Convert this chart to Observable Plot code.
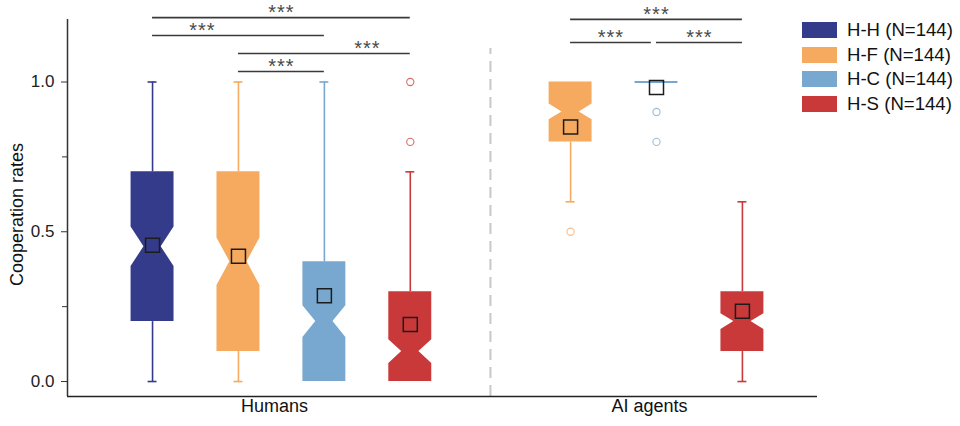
<!DOCTYPE html>
<html>
<head>
<meta charset="utf-8">
<script src="https://cdn.jsdelivr.net/npm/d3@7"></script>
<script src="https://cdn.jsdelivr.net/npm/@observablehq/plot@0.6"></script>
<style>
  body { margin: 0; background: #fff; font-family: "Liberation Sans", Arial, sans-serif; }
  #wrap { position: relative; width: 960px; height: 426px; }
  #legend { position: absolute; left: 802px; top: 22px; }
  .row { display: flex; align-items: center; height: 16px; margin-bottom: 8.6px; }
  .sw { width: 35px; height: 16px; margin-right: 10px; }
  .lab { font-size: 18.6px; color: #111; white-space: nowrap; line-height: 16px; }
</style>
</head>
<body>
<div id="wrap"><div id="legend"></div></div>
<script>
// ---------------- data ----------------
const groups = ["Humans", "AI agents"];
const series = ["H-H", "H-F", "H-C", "H-S"];
const seriesN = [144, 144, 144, 144];
const seriesColors = ["#343b8a", "#f6aa5f", "#78a8cf", "#c9393a"];

const boxGroup  = ["Humans", "Humans", "Humans", "Humans", "AI agents", "AI agents", "AI agents"];
const boxSeries = ["H-H", "H-F", "H-C", "H-S", "H-F", "H-C", "H-S"];
const boxMin    = [0.0, 0.0, 0.0, 0.0, 0.6, 1.0, 0.0];
const boxQ1     = [0.2, 0.1, 0.0, 0.0, 0.8, 1.0, 0.1];
const boxMedian = [0.45, 0.4, 0.2, 0.1, 0.9, 1.0, 0.2];
const boxQ3     = [0.7, 0.7, 0.4, 0.3, 1.0, 1.0, 0.3];
const boxMax    = [1.0, 1.0, 1.0, 0.7, 1.0, 1.0, 0.6];
const boxMean   = [0.455, 0.418, 0.286, 0.19, 0.85, 0.982, 0.235];

const outlierGroup  = ["Humans", "Humans", "AI agents", "AI agents", "AI agents"];
const outlierSeries = ["H-S", "H-S", "H-F", "H-C", "H-C"];
const outlierValue  = [0.8, 1.0, 0.5, 0.9, 0.8];

const compGroup = ["Humans", "Humans", "Humans", "Humans", "AI agents", "AI agents", "AI agents"];
const compA     = ["H-H", "H-H", "H-F", "H-F", "H-F", "H-F", "H-C"];
const compB     = ["H-S", "H-C", "H-S", "H-C", "H-S", "H-C", "H-S"];
const compLabel = ["***", "***", "***", "***", "***", "***", "***"];

const yTicks = [0, 0.5, 1.0];
const yMinorTicks = [0.25, 0.75];

// ---------------- layout ----------------
const groupOffset = {"Humans": 0, "AI agents": 3.866};
const boxWidth = 0.5, capHalf = 0.052, notchIndent = 0.3 * boxWidth;
const bracketRow = [3, 2, 1, 0, 1, 0, 0];
const rowBase = {"Humans": 1.035, "AI agents": 1.132};
const rowStep = {"Humans": 0.06, "AI agents": 0.077};
const labelFrac = [0.5, 0.29, 0.75, 0.5, 0.5, 0.5, 0.5];
const pos = (g, s) => groupOffset[g] + series.indexOf(s);
const nOf = s => seriesN[series.indexOf(s)];

const boxes = boxGroup.map((g, i) => ({
  g, s: boxSeries[i], x: pos(g, boxSeries[i]),
  min: boxMin[i], q1: boxQ1[i], med: boxMedian[i], q3: boxQ3[i], max: boxMax[i], mean: boxMean[i]
}));

// notched box outlines
const outline = [];
boxes.forEach((b, i) => {
  if (b.q3 <= b.q1) return;
  const half = 1.58 * (b.q3 - b.q1) / Math.sqrt(nOf(b.s));
  const lo = Math.max(b.q1, b.med - half), hi = Math.min(b.q3, b.med + half);
  const L = b.x - boxWidth / 2, R = b.x + boxWidth / 2;
  [[b.q1, L, R], [lo, L, R], [b.med, L + notchIndent, R - notchIndent], [hi, L, R], [b.q3, L, R]]
    .forEach(([y, x1, x2]) => outline.push({id: i, s: b.s, y, x1, x2}));
});
const degenerate = boxes.filter(b => b.q3 <= b.q1);

const whiskers = [];
boxes.forEach(b => {
  if (b.max > b.q3) whiskers.push({s: b.s, x: b.x, y1: b.q3, y2: b.max, cap: b.max});
  if (b.min < b.q1) whiskers.push({s: b.s, x: b.x, y1: b.min, y2: b.q1, cap: b.min});
});

const outliers = outlierValue.map((v, i) => ({s: outlierSeries[i], x: pos(outlierGroup[i], outlierSeries[i]), y: v}));

const comps = compGroup.map((g, i) => {
  const x1 = pos(g, compA[i]);
  let x2 = pos(g, compB[i]);
  const adjacent = compGroup.some((g2, j) => j !== i && g2 === g && bracketRow[j] === bracketRow[i] && pos(g2, compA[j]) === x2);
  if (adjacent) x2 -= 0.06;
  return {x1, x2, y: rowBase[g] + bracketRow[i] * rowStep[g], label: compLabel[i], lx: x1 + labelFrac[i] * (x2 - x1)};
});

const groupLabels = groups.map(g => ({g, x: d3.mean(boxes.filter(b => b.g === g), b => b.x)}));
const divider = [(d3.max(boxes.filter(b => b.g === "Humans"), b => b.x) + d3.min(boxes.filter(b => b.g === "AI agents"), b => b.x)) / 2];

const yLo = -0.05, yTop = 1.209;
const xLo = -0.99, xHi = 7.74;

// ---------------- plot ----------------
const chart = Plot.plot({
  width: 960, height: 426,
  marginLeft: 67, marginRight: 143, marginTop: 0, marginBottom: 30,
  style: {fontFamily: '"Liberation Sans", Arial, sans-serif', fontSize: "17px", color: "#222", background: "#fff"},
  x: {domain: [xLo, xHi], axis: null},
  y: {domain: [yLo, 1.2721], axis: null},
  color: {domain: series, range: seriesColors},
  marks: [
    Plot.ruleX(divider, {x: d => d, y1: yLo, y2: 1.112, stroke: "#c8c8c8", strokeWidth: 2, strokeDasharray: "11,7"}),
    Plot.ruleX(whiskers, {x: "x", y1: "y1", y2: "y2", stroke: "s", strokeWidth: 1.6}),
    Plot.ruleY(whiskers, {y: "cap", x1: d => d.x - capHalf, x2: d => d.x + capHalf, stroke: "s", strokeWidth: 1.6}),
    Plot.areaX(outline, {y: "y", x1: "x1", x2: "x2", z: "id", fill: "s", curve: "linear"}),
    Plot.ruleY(degenerate, {y: "med", x1: d => d.x - boxWidth / 2, x2: d => d.x + boxWidth / 2, stroke: "s", strokeWidth: 2}),
    Plot.dot(outliers, {x: "x", y: "y", r: 3.6, stroke: "s", strokeOpacity: 0.75, fill: "none", strokeWidth: 1.1}),
    Plot.dot(boxes, {x: "x", y: "mean", symbol: "square", r: 7.9, stroke: "#1c1c1c", fill: "none", strokeWidth: 1.5}),
    Plot.ruleY(comps, {y: "y", x1: "x1", x2: "x2", stroke: "#3a3a3a", strokeWidth: 1.6}),
    Plot.text(comps, {x: "lx", y: "y", text: "label", dy: -5, fontSize: 20, fill: "#4a4a4a"}),
    Plot.ruleX([xLo], {x: d => d, y1: yLo, y2: yTop, stroke: "#333", strokeWidth: 1.5}),
    Plot.ruleY([yLo], {y: d => d, x1: xLo, x2: xHi, stroke: "#222", strokeWidth: 1.5}),
    Plot.axisY(yTicks, {tickSize: 6, tickPadding: 7, tickFormat: d3.format(".1f"), label: null, fontSize: 17, stroke: "#333"}),
    Plot.axisY(yMinorTicks, {tickSize: 5, tickFormat: () => "", label: null, stroke: "#333"}),
    Plot.text(["Cooperation rates"], {text: d => d, frameAnchor: "left", textAnchor: "middle", rotate: -90, dx: -50, dy: 16, fontSize: 18, fill: "#111"}),
    Plot.text(groupLabels, {x: "x", text: "g", frameAnchor: "bottom", dy: 15, dx: -7, fontSize: 18, fill: "#111"})
  ]
});
d3.select(chart).selectAll("text").filter(function() { return this.textContent === "***"; }).attr("letter-spacing", "1px");
document.getElementById("wrap").prepend(chart);

// legend
const legend = d3.select("#legend");
series.forEach((s, i) => {
  const row = legend.append("div").attr("class", "row");
  row.append("div").attr("class", "sw").style("background", seriesColors[i]);
  row.append("span").attr("class", "lab").text(`${s} (N=${seriesN[i]})`);
});
</script>
</body>
</html>
